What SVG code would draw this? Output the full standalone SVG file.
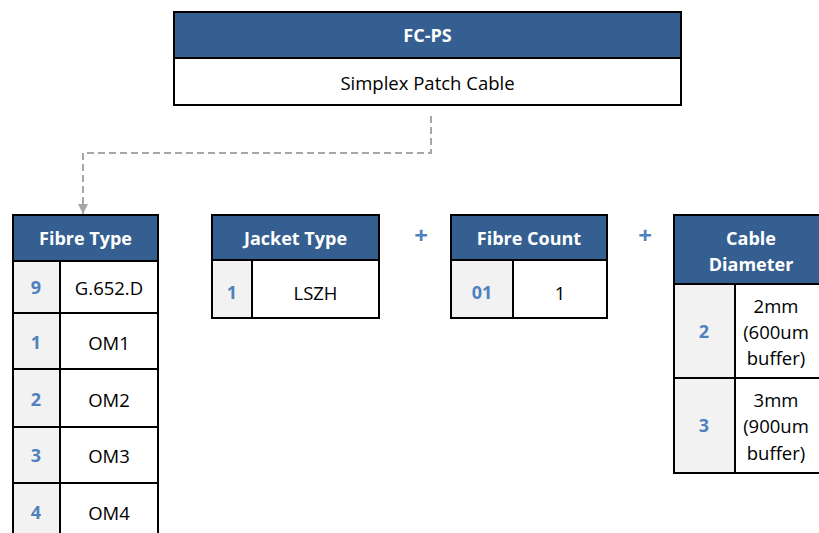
<svg xmlns="http://www.w3.org/2000/svg" width="819" height="533" viewBox="0 0 819 533">
<defs>
<style>
.hdr{fill:#355F91;stroke:#000;stroke-width:2}
.cell{fill:#fff;stroke:#000;stroke-width:2}
.key{fill:#F2F2F2;stroke:#000;stroke-width:2}
.ht{font-family:"Open Sans","Liberation Sans",sans-serif;font-size:18px;font-weight:bold;fill:#fff;text-anchor:middle;dominant-baseline:central}
.vt{font-family:"Open Sans","Liberation Sans",sans-serif;font-size:18.5px;fill:#000;text-anchor:middle;dominant-baseline:central}
.kt{font-family:"Open Sans","Liberation Sans",sans-serif;font-size:18px;font-weight:bold;fill:#4F81BD;text-anchor:middle;dominant-baseline:central}
.plus{font-family:"Open Sans","Liberation Sans",sans-serif;font-size:24px;font-weight:bold;fill:#4F81BD;text-anchor:middle;dominant-baseline:central}
.conn{fill:none;stroke:#A6A6A6;stroke-width:2;stroke-dasharray:7,4}
</style>
<marker id="arr" viewBox="0 0 10 10" refX="10" refY="5" markerWidth="5" markerHeight="5" orient="auto" markerUnits="strokeWidth">
<path d="M0,0 L10,5 L0,10 z" fill="#A6A6A6"/>
</marker>
</defs>
<g id="connectors">
<path class="conn" d="M431,116 V153 H83 V214" marker-end="url(#arr)"/>
</g>
<g id="fc-ps">
<rect class="hdr" x="174" y="12" width="507" height="46"/>
<rect class="cell" x="174" y="58" width="507" height="47"/>
<text class="ht" x="427.5" y="35">FC-PS</text>
<text class="vt" x="427.5" y="82">Simplex Patch Cable</text>
</g>
<g id="fibre-type">
<rect class="hdr" x="13" y="215" width="145" height="46"/>
<text class="ht" x="85.5" y="238">Fibre Type</text>
<rect class="key" x="13" y="261" width="47" height="52"/>
<rect class="cell" x="60" y="261" width="98" height="52"/>
<text class="kt" x="36" y="287">9</text>
<text class="vt" x="109" y="287">G.652.D</text>
<rect class="key" x="13" y="313" width="47" height="56"/>
<rect class="cell" x="60" y="313" width="98" height="56"/>
<text class="kt" x="36" y="342">1</text>
<text class="vt" x="109" y="342">OM1</text>
<rect class="key" x="13" y="369" width="47" height="58"/>
<rect class="cell" x="60" y="369" width="98" height="58"/>
<text class="kt" x="36" y="399">2</text>
<text class="vt" x="109" y="399">OM2</text>
<rect class="key" x="13" y="427" width="47" height="56"/>
<rect class="cell" x="60" y="427" width="98" height="56"/>
<text class="kt" x="36" y="455">3</text>
<text class="vt" x="109" y="455">OM3</text>
<rect class="key" x="13" y="483" width="47" height="56"/>
<rect class="cell" x="60" y="483" width="98" height="56"/>
<text class="kt" x="36" y="512">4</text>
<text class="vt" x="109" y="512">OM4</text>
</g>
<g id="jacket-type">
<rect class="hdr" x="212" y="215" width="167" height="45"/>
<text class="ht" x="295.5" y="238">Jacket Type</text>
<rect class="key" x="212" y="260" width="40" height="58"/>
<rect class="cell" x="252" y="260" width="127" height="58"/>
<text class="kt" x="232" y="292">1</text>
<text class="vt" x="315.5" y="292">LSZH</text>
</g>
<g id="plus1"><text class="plus" x="421" y="234">+</text></g>
<g id="fibre-count">
<rect class="hdr" x="451" y="215" width="156" height="45"/>
<text class="ht" x="529" y="238">Fibre Count</text>
<rect class="key" x="451" y="260" width="62" height="58"/>
<rect class="cell" x="513" y="260" width="94" height="58"/>
<text class="kt" x="482" y="292">01</text>
<text class="vt" x="560" y="292">1</text>
</g>
<g id="plus2"><text class="plus" x="645" y="234">+</text></g>
<g id="cable-diameter">
<rect class="hdr" x="674" y="215" width="148" height="69"/>
<text class="ht" x="751" y="238">Cable</text>
<text class="ht" x="751" y="264">Diameter</text>
<rect class="key" x="674" y="284" width="61" height="94"/>
<rect class="cell" x="735" y="284" width="87" height="94"/>
<text class="kt" x="704" y="331">2</text>
<text class="vt" x="776" y="305">2mm</text>
<text class="vt" x="776" y="331">(600um</text>
<text class="vt" x="776" y="357">buffer)</text>
<rect class="key" x="674" y="378" width="61" height="95"/>
<rect class="cell" x="735" y="378" width="87" height="95"/>
<text class="kt" x="704" y="425">3</text>
<text class="vt" x="776" y="399">3mm</text>
<text class="vt" x="776" y="425">(900um</text>
<text class="vt" x="776" y="452">buffer)</text>
</g>
</svg>
